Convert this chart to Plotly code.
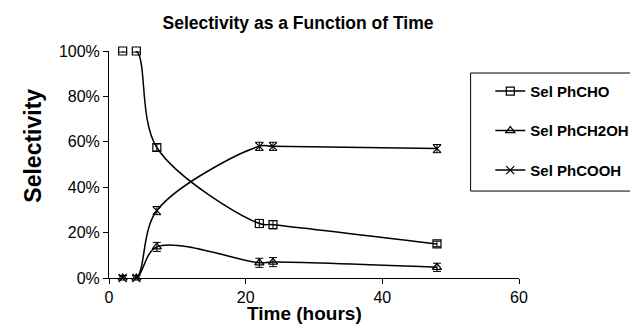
import plotly.graph_objects as go

time_h = [2, 4, 7, 22, 24, 48]
sel_phcho = [1.00, 1.00, 0.575, 0.24, 0.235, 0.15]
sel_phch2oh = [0.00, 0.00, 0.137, 0.067, 0.07, 0.047]
sel_phcooh = [0.00, 0.00, 0.297, 0.58, 0.58, 0.57]
err_phcho = [0.005, 0.005, 0.015, 0.018, 0.018, 0.012]
err_phch2oh = [0.01, 0.01, 0.02, 0.02, 0.02, 0.018]
err_phcooh = [0.01, 0.01, 0.018, 0.018, 0.018, 0.018]

series = [
    ("Sel PhCHO", sel_phcho, err_phcho, "square-open"),
    ("Sel PhCH2OH", sel_phch2oh, err_phch2oh, "triangle-up-open"),
    ("Sel PhCOOH", sel_phcooh, err_phcooh, "x-thin-open"),
]

font_family = "Liberation Sans, Arial, sans-serif"

fig = go.Figure()
for i, (name, vals, errs, sym) in enumerate(series):
    fig.add_trace(go.Scatter(
        x=time_h, y=vals, name=f"<b>{name}</b>", mode="lines+markers",
        line=dict(color="black", width=1.5, shape="spline", smoothing=1.0),
        marker=dict(symbol=sym, size=8, color="black",
                    line=dict(color="black", width=1.2)),
        error_y=dict(type="data", array=errs, visible=True,
                     color="black", thickness=1, width=4),
        cliponaxis=False,
        legendgroup=f"g{i}",
    ))

# legend frame drawn as a box (the legend itself is placed inside it)
fig.add_shape(type="rect", xref="paper", yref="paper",
              x0=0.882, x1=1.29, y0=0.383, y1=0.903,
              line=dict(color="black", width=1), fillcolor="rgba(0,0,0,0)")

# axis titles as positioned text
fig.add_annotation(text="<b>Time (hours)</b>", xref="paper", yref="paper",
                   x=0.477, y=0, yshift=-35, xanchor="center", yanchor="middle",
                   showarrow=False, font=dict(size=19, family=font_family))
fig.add_annotation(text="<b>Selectivity</b>", xref="paper", yref="paper",
                   x=0, y=0.583, xshift=-76, xanchor="center", yanchor="middle",
                   textangle=-90, showarrow=False,
                   font=dict(size=23, family=font_family))

fig.update_layout(
    width=638, height=327,
    margin=dict(l=101, r=122, t=43, b=57),
    paper_bgcolor="white", plot_bgcolor="white",
    font=dict(family=font_family, color="black", size=16),
    title=dict(text="<b>Selectivity as a Function of Time</b>",
               x=290 / 638, xanchor="center", y=0.955, yanchor="middle",
               font=dict(size=17.5, family=font_family)),
    xaxis=dict(range=[0, 60], tickvals=[0, 20, 40, 60],
               showgrid=False, zeroline=False, showline=True,
               linecolor="black", linewidth=1, ticks="outside",
               ticklen=5, tickcolor="black", automargin=False,
               tickfont=dict(size=16)),
    yaxis=dict(range=[0, 1], tickvals=[0, 0.2, 0.4, 0.6, 0.8, 1.0],
               tickformat=".0%", showgrid=False, zeroline=False,
               showline=True, linecolor="black", linewidth=1,
               ticks="outside", ticklen=5, tickcolor="black",
               automargin=False, tickfont=dict(size=16)),
    legend=dict(x=0.93, y=0.895, xanchor="left", yanchor="top",
                borderwidth=0, bgcolor="rgba(0,0,0,0)",
                font=dict(size=15, family=font_family),
                tracegroupgap=17, itemwidth=30),
)

fig.write_html("out.html")
